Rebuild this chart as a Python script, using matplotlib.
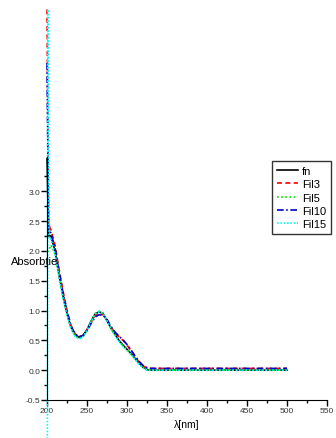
import matplotlib
matplotlib.use("Agg")
import matplotlib.pyplot as plt
import numpy as np

plt.rcParams['font.family'] = ['Liberation Sans', 'DejaVu Sans']

# wavelength grid [nm]
wl = [200, 202, 205, 210, 215, 220, 225, 230, 235, 240, 245, 250, 255, 260,
      265, 270, 275, 280, 285, 290, 295, 300, 305, 310, 315, 320, 325, 330,
      350, 400, 450, 500]

fn = [3.55, 2.25, 2.25, 2.0, 1.6, 1.25, 0.95, 0.72, 0.6, 0.55, 0.58, 0.68,
      0.82, 0.94, 0.98, 0.95, 0.83, 0.7, 0.6, 0.5, 0.42, 0.35, 0.28, 0.2,
      0.12, 0.05, 0.01, 0.0, 0.0, 0.0, 0.0, 0.0]
fil3 = [6.05, 2.45, 2.35, 2.1, 1.7, 1.33, 1.0, 0.75, 0.61, 0.56, 0.58, 0.67,
        0.8, 0.91, 0.95, 0.93, 0.85, 0.72, 0.63, 0.56, 0.5, 0.42, 0.33, 0.23,
        0.14, 0.07, 0.04, 0.03, 0.03, 0.03, 0.03, 0.03]
fil5 = [2.0, 2.0, 2.1, 1.95, 1.58, 1.22, 0.93, 0.7, 0.58, 0.53, 0.57, 0.67,
        0.82, 0.95, 0.99, 0.96, 0.84, 0.7, 0.59, 0.49, 0.41, 0.34, 0.27, 0.19,
        0.11, 0.05, 0.01, 0.0, 0.0, 0.0, 0.0, 0.0]
fil10 = [5.15, 2.35, 2.3, 2.05, 1.66, 1.3, 0.98, 0.74, 0.61, 0.56, 0.58, 0.66,
         0.78, 0.89, 0.93, 0.92, 0.85, 0.73, 0.64, 0.57, 0.51, 0.43, 0.34,
         0.24, 0.15, 0.08, 0.04, 0.03, 0.03, 0.03, 0.03, 0.03]
wl15 = [200.5, 201, 203, 205, 210, 215, 220, 225, 230, 235, 240, 245, 250,
        255, 260, 265, 270, 275, 280, 285, 290, 295, 300, 305, 310, 315, 320,
        325, 330, 350, 400, 450, 500]
fil15 = [-1.5, 6.05, 2.2, 2.2, 1.95, 1.57, 1.2, 0.92, 0.7, 0.57, 0.52, 0.56,
         0.66, 0.81, 0.94, 0.98, 0.95, 0.83, 0.69, 0.58, 0.48, 0.4, 0.33,
         0.26, 0.18, 0.1, 0.04, 0.0, 0.0, 0.0, 0.0, 0.0, 0.0]

fig = plt.figure(figsize=(3.36, 4.39), dpi=100)
ax = fig.add_axes([47/336, 38/439, 280/336, 401/439])

ax.plot(wl, fn, color='black', lw=1.2, label='fn', clip_on=False)
ax.plot(wl, fil3, color='red', lw=1.2, ls=(0, (3, 2)), label='Fil3', clip_on=False)
ax.plot(wl, fil5, color='#00dd00', lw=1.2, ls=(0, (1, 1.5)), label='Fil5', clip_on=False)
ax.plot(wl, fil10, color='#0000cc', lw=1.2, ls=(0, (4, 1.5, 1, 1.5)), label='Fil10', clip_on=False)
ax.plot(wl15, fil15, color='cyan', lw=1.2, ls=(0, (1, 1)), label='Fil15', clip_on=False)

ax.set_xlim(200, 550)
ax.set_ylim(-0.5, 6.225)
for s in ['top', 'right']:
    ax.spines[s].set_visible(False)
ax.spines['left'].set_bounds(-0.5, 3.58)
ax.set_xticks(np.arange(200, 551, 50))
ax.set_xticks(np.arange(225, 551, 50), minor=True)
ax.set_yticks(np.arange(-0.5, 3.01, 0.5))
ax.set_yticks(np.arange(-0.25, 3.3, 0.5), minor=True)
ax.set_yticklabels([f'{v:.1f}' for v in np.arange(-0.5, 3.01, 0.5)])
ax.tick_params(which='major', length=4, width=1, labelsize=6, pad=1, labelcolor='#333333')
ax.tick_params(which='minor', length=2.5, width=1)

ax.set_xlabel('λ[nm]', fontsize=7.5, labelpad=4)
fig.text(11/336, 1 - 262/439, 'Absorbtie', fontsize=8, va='center', ha='left')

leg = ax.legend(loc='upper left', bbox_to_anchor=(272/336, 1 - 162/439),
                bbox_transform=fig.transFigure, fontsize=8, frameon=True,
                fancybox=False, edgecolor='black', handlelength=1.9,
                handletextpad=0.35, labelspacing=0.3, borderpad=0.45,
                borderaxespad=0)
leg.get_frame().set_linewidth(1)

fig.savefig('out.png', dpi=100)
